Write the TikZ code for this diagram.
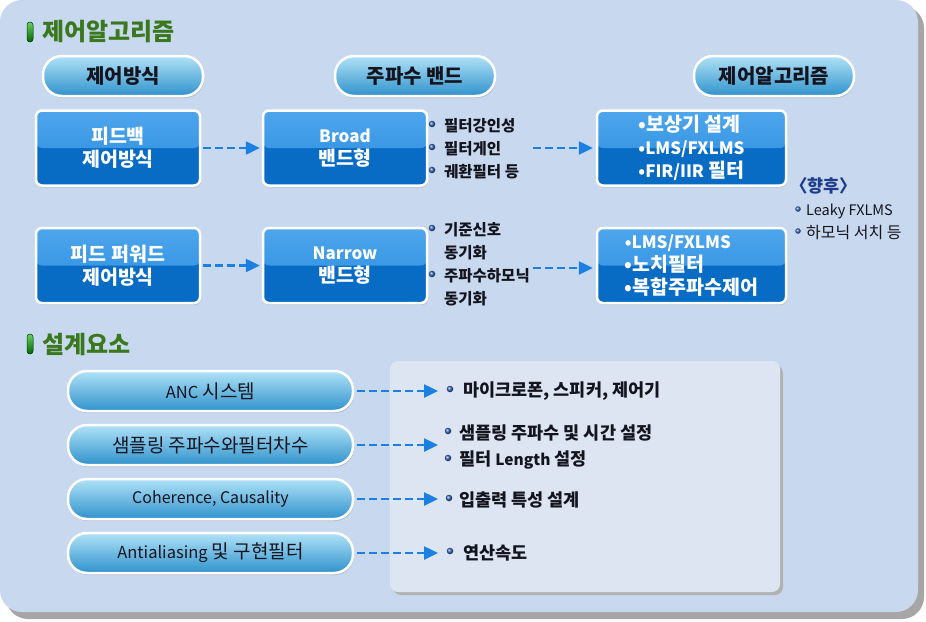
\documentclass[tikz,border=0pt]{standalone}
\usepackage{fontspec}
\setmainfont{Noto Sans CJK KR}
\usetikzlibrary{arrows.meta,shadows}
\definecolor{bgblue}{RGB}{200,216,238}
\definecolor{panelc}{RGB}{221,229,242}
\definecolor{boxtop}{RGB}{78,166,236}
\definecolor{boxmid}{RGB}{40,138,222}
\definecolor{boxbot}{RGB}{8,108,196}
\definecolor{pilltop}{RGB}{176,226,247}
\definecolor{pillbot}{RGB}{48,146,204}
\definecolor{arrowc}{RGB}{28,128,226}
\definecolor{dotc}{RGB}{50,100,190}
\definecolor{titleg}{RGB}{58,120,30}
\definecolor{navy}{RGB}{30,60,140}
\definecolor{txt}{RGB}{20,20,30}
\newcommand\lat[2]{{\fontsize{#1}{#1}\selectfont #2}}
\tikzset{
  bluebox/.style={draw=white, line width=2.5pt, rounded corners=6pt, fill=boxbot,
    minimum width=164pt, minimum height=75pt, text=white, align=center,
    font=\bfseries\fontsize{19.5}{23}\selectfont,
    drop shadow={shadow xshift=1pt, shadow yshift=-2pt, opacity=0.25},
    path picture={\fill[top color=boxtop, bottom color=boxmid]
      (path picture bounding box.north west) rectangle (path picture bounding box.east);}},
  hpill/.style={draw=white, line width=2.5pt, rounded corners=19pt,
    top color=pilltop, bottom color=pillbot, minimum width=160pt, minimum height=40pt,
    font=\bfseries\fontsize{20}{20}\selectfont, text=txt,
    drop shadow={shadow xshift=1pt, shadow yshift=-2pt, opacity=0.3}},
  lpill/.style={hpill, minimum width=285pt, font=\fontsize{19}{19}\selectfont},
  dasharrow/.style={arrowc, line width=2.5pt, dash pattern=on 8pt off 4pt,
    -{Triangle[length=14pt,width=13pt]}},
  ltxt/.style={anchor=west, inner sep=0pt, text=txt, font=\bfseries\fontsize{15.5}{15.5}\selectfont},
  ptxt/.style={anchor=west, inner sep=0pt, text=txt, font=\bfseries\fontsize{17.5}{17.5}\selectfont},
  dot/.style={ball color=dotc, circle, inner sep=0pt, minimum size=6.5pt},
  title/.style={anchor=west, inner sep=0pt, text=titleg, font=\bfseries\fontsize{24}{24}\selectfont},
  marker/.style={top color=green!70!black!60, bottom color=green!40!black, draw=green!30!black, line width=0.5pt, rounded corners=3pt}
}
\begin{document}
\begin{tikzpicture}[x=1pt,y=-1pt]
\useasboundingbox (0,0) rectangle (926,621);
\fill[black!35, rounded corners=22pt] (6,6) rectangle (924,619);
\fill[bgblue, rounded corners=22pt] (0,0) rectangle (918,612);

% titles
\fill[marker] (27,22) rectangle (33,42);
\node[title] (t1) at (42,32) {제어알고리즘};
\fill[marker] (27,334) rectangle (33,354);
\node[title] (t2) at (42,344) {설계요소};

% header pills
\node[hpill] (h1) at (123,76) {제어방식};
\node[hpill] (h2) at (415,76) {주파수 밴드};
\node[hpill] (h3) at (774,76) {제어알고리즘};

% blue boxes
\node[bluebox] (b1) at (118,148) {피드백\\제어방식};
\node[bluebox] (b2) at (345,148) {\lat{17}{Broad}\\밴드형};
\node[bluebox, minimum width=189pt] (b3) at (691.5,148) {};
\node[text=white, align=left, font=\bfseries\fontsize{19.5}{23}\selectfont] (b3t) at (b3) {•보상기 설계\\\lat{17}{•LMS/FXLMS}\\\lat{17}{•FIR/IIR} 필터};
\node[bluebox] (b4) at (118,265.5) {피드 퍼워드\\제어방식};
\node[bluebox] (b5) at (345,265.5) {\lat{17}{Narrow}\\밴드형};
\node[bluebox, minimum width=189pt] (b6) at (691.5,265.5) {};
\node[text=white, align=left, font=\bfseries\fontsize{19.5}{23}\selectfont] (b6t) at (b6) {\lat{17}{•LMS/FXLMS}\\•노치필터\\•복합주파수제어};

% lists row 1
\node[dot] (d1) at (432,124) {};
\node[ltxt] (l1) at (444,126) {필터강인성};
\node[dot] (d2) at (432,147) {};
\node[ltxt] (l2) at (444,149) {필터게인};
\node[dot] (d3) at (432,170) {};
\node[ltxt] (l3) at (444,172) {궤환필터 등};
% lists row 2
\node[dot] (d4) at (432,228) {};
\node[ltxt] (l4) at (444,230) {기준신호};
\node[ltxt] (l5) at (444,253) {동기화};
\node[dot] (d5) at (432,274) {};
\node[ltxt] (l6) at (444,276) {주파수하모닉};
\node[ltxt] (l7) at (444,299) {동기화};

% future
\node[anchor=west, inner sep=0pt, text=navy, font=\bfseries\fontsize{17.5}{17.5}\selectfont] (f0) at (790,186) {〈향후〉};
\node[dot, minimum size=5.5pt] (d6) at (798,209) {};
\node[ltxt, font=\fontsize{14.5}{14.5}\selectfont] (f1) at (806,211) {Leaky FXLMS};
\node[dot, minimum size=5.5pt] (d7) at (798,231) {};
\node[ltxt, font=\fontsize{16}{16}\selectfont] (f2) at (806,233) {하모닉 서치 등};

% arrows top
\coordinate (a1) at (533,148);
\coordinate (a2) at (533,268);
\draw[dasharrow] ([xshift=2pt]b1.east) -- ([xshift=-2pt]b2.west);
\draw[dasharrow] ([xshift=2pt]b4.east) -- ([xshift=-2pt]b5.west);
\draw[dasharrow] (a1) -- ([xshift=-3pt]b3.west);
\draw[dasharrow] (a2) -- ([xshift=-3pt]a2 -| b6.west);

% panel
\fill[black!30, rounded corners=8pt] (393,365) rectangle (783,595);
\fill[panelc, rounded corners=8pt] (390,361) rectangle (780,592);

% bottom pills
\node[lpill] (p1) at (210.5,391) {\lat{16.5}{ANC} 시스템};
\node[lpill] (p2) at (210.5,445) {샘플링 주파수와필터차수};
\node[lpill] (p3) at (210.5,499) {\lat{16}{Coherence, Causality}};
\node[lpill] (p4) at (210.5,553) {\lat{16.5}{Antialiasing} 및 구현필터};

\coordinate (c1) at (438,391);
\coordinate (c2) at (438,445);
\coordinate (c3) at (438,499);
\coordinate (c4) at (438,553);
\draw[dasharrow] ([xshift=3pt]p1.east) -- (c1);
\draw[dasharrow] ([xshift=3pt]p2.east) -- (c2);
\draw[dasharrow] ([xshift=3pt]p3.east) -- (c3);
\draw[dasharrow] ([xshift=3pt]p4.east) -- (c4);

\node[dot] (e1) at (450,389) {};
\node[ptxt] (q1) at (463,391) {마이크로폰, 스피커, 제어기};
\node[dot] (e2) at (448,431) {};
\node[ptxt] (q2) at (459,433) {샘플링 주파수 및 시간 설정};
\node[dot] (e3) at (448,458) {};
\node[ptxt] (q3) at (459,460) {필터 \lat{15.5}{Length} 설정};
\node[dot] (e4) at (449,498) {};
\node[ptxt] (q4) at (459,500) {입출력 특성 설계};
\node[dot] (e5) at (450,551) {};
\node[ptxt] (q5) at (463,553) {연산속도};
\end{tikzpicture}
\end{document}
